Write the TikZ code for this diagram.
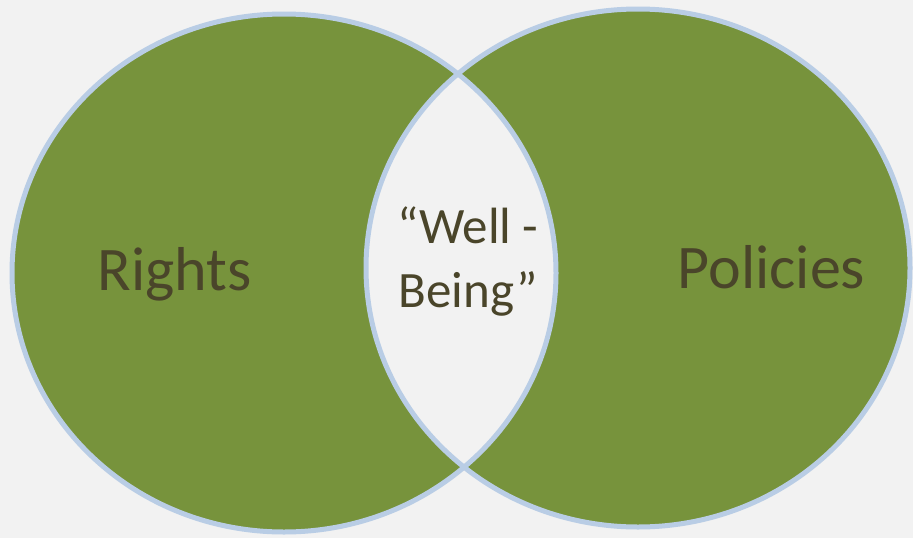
\documentclass[tikz,border=0pt]{standalone}
\usepackage{fontspec}
\setmainfont{Carlito}
\usepackage{tikz}
\usetikzlibrary{positioning}
\definecolor{bgcol}{HTML}{F2F2F2}
\definecolor{leafcol}{HTML}{77933C}
\definecolor{rimcol}{HTML}{B9CDE5}
\definecolor{inkcol}{HTML}{4A452A}
\tikzset{
  rim/.style={draw=rimcol, line width=5pt},
  setlbl/.style={text=inkcol, font=\fontsize{62}{62}\selectfont, inner sep=0pt, anchor=base},
  midlbl/.style={text=inkcol, font=\fontsize{51}{64}\selectfont, inner sep=0pt, align=center}
}

\begin{document}
\begin{tikzpicture}[x=1pt,y=-1pt]

    \fill[bgcol] (0,0) rectangle (913,538);

    % the two sets: {centre x/centre y}
    \foreach \cx/\cy in {284/273, 638/268} {
        \fill[leafcol] (\cx,\cy) ellipse [x radius=272, y radius=259];
    }

    % overlap in the background colour
    \begin{scope}
        \clip (284,273) ellipse [x radius=272, y radius=259];
        \fill[bgcol] (638,268) ellipse [x radius=272, y radius=259];
    \end{scope}

    % rims on top
    \foreach \cx/\cy in {284/273, 638/268} {
        \draw[rim] (\cx,\cy) ellipse [x radius=272, y radius=259];
    }

    \node[setlbl] (rights) at (174.5,290) {Rights};
    \node[setlbl] (policies) at (771.5,288) {Policies};
    \node[midlbl, anchor=base] (wellbeing) at (468,307) {“Well -\\Being”};

\end{tikzpicture}
\end{document}
